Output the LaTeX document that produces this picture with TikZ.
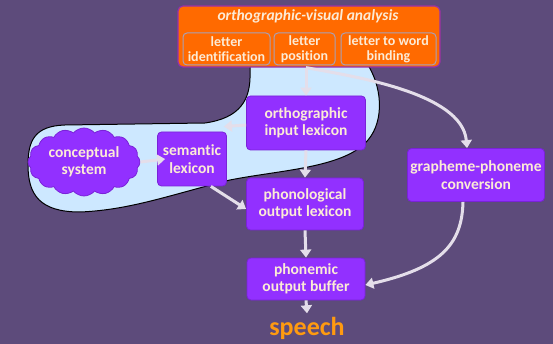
\documentclass[tikz,border=0pt]{standalone}
\usepackage{fontspec}
\setmainfont{Carlito}[Ligatures=NoCommon]
\usetikzlibrary{arrows.meta,shapes.symbols,calc}
\definecolor{bgpurple}{HTML}{5D4B7B}
\definecolor{boxviolet}{HTML}{9230FF}
\definecolor{boxedge}{HTML}{7A22D8}
\definecolor{cream}{HTML}{FCEBD6}
\definecolor{flow}{HTML}{E4DEEA}
\definecolor{orangefill}{HTML}{FF6A00}
\definecolor{subedge}{HTML}{A8A0B8}
\definecolor{blobblue}{HTML}{CDE8FF}
\definecolor{speechorange}{HTML}{FF9A10}
\tikzset{
  module/.style={draw=boxedge, line width=0.8pt, fill=boxviolet, rounded corners=4pt,
    text=cream, font=\fontsize{15.5}{17.5}\selectfont\bfseries, align=center, inner sep=1pt},
  subunit/.style={draw=subedge, line width=1pt, rounded corners=4pt, fill=orangefill,
    text=cream, font=\fontsize{14}{15}\selectfont\bfseries, align=center, inner sep=0pt,
    minimum height=32pt},
  route/.style={draw=flow, line width=3pt, -{Triangle[length=8pt,width=11pt]}},
}
\begin{document}
\begin{tikzpicture}[x=1pt,y=-1pt]
\useasboundingbox (0,0) rectangle (553,344);
\fill[bgpurple] (0,0) rectangle (553,344);

% semantic region behind the lexical route
\draw[fill=blobblue, line width=1pt, draw=black]
  (250,62) -- (250,72) .. controls (251,100) and (240,118) .. (205,123)
  -- (65,125) .. controls (35,126) and (28,140) .. (28,165)
  .. controls (28,195) and (40,212) .. (80,212)
  .. controls (130,210) and (170,195) .. (230,180)
  .. controls (280,170) and (345,168) .. (368,140)
  .. controls (385,120) and (382,85) .. (366,62) -- cycle;

% visual analysis stage
\node[draw=boxedge!80!orangefill, line width=1.2pt, fill=orangefill, rounded corners=5pt,
  minimum width=262pt, minimum height=61pt] (ova) at (309,36.5) {};
\node[text=cream, font=\fontsize{15.5}{17}\selectfont\bfseries\itshape] (ovatitle) at (308,16) {orthographic-visual analysis};
\node[subunit, minimum width=87pt] (lid) at (226.5,49) {letter\\identification};
\node[subunit, minimum width=61pt] (lpos) at (304.5,49) {letter\\position};
\node[subunit, minimum width=95pt] (lwb) at (388.5,49) {letter to word\\binding};

% processing modules
\node[module, minimum width=119pt, minimum height=54pt] (oil) at (306,123) {orthographic\\input lexicon};
\node[module, minimum width=69pt, minimum height=54pt] (sem) at (192,159) {semantic\\lexicon};
\node[module, minimum width=117pt, minimum height=52pt] (pol) at (305,204) {phonological\\output lexicon};
\node[module, minimum width=137pt, minimum height=53pt] (gpc) at (476,175) {grapheme-phoneme\\conversion};
\node[module, minimum width=118pt, minimum height=42pt] (pob) at (306,279) {phonemic\\output buffer};
\node[cloud, cloud puffs=16, cloud puff arc=100, aspect=1.7, draw=boxedge, line width=0.8pt,
  fill=boxviolet, text=cream, font=\fontsize{15.5}{17.5}\selectfont\bfseries, align=center,
  minimum width=112pt, minimum height=68pt, inner sep=0pt] (con) at (84,162) {conceptual\\system};
\node[text=speechorange, font=\fontsize{26}{28}\selectfont\bfseries] (speech) at (307,328) {speech};

% connections
\coordinate (tap) at (oil.north |- ova.south);
\draw[route] (tap) -- (oil.north);
\draw[route] (tap) .. controls (350,76) and (462,92) .. ([xshift=-9pt]gpc.north);
\draw[route] ([xshift=-13pt]gpc.south) .. controls (462,245) and (440,268) .. ([yshift=-6pt]pob.east);
\draw[route] ([yshift=-2pt]oil.west) -- ([xshift=-3pt,yshift=5pt]sem.north east);
\draw[route] (con.east) -- ([xshift=8pt]sem.west);
\draw[route] ([xshift=-16pt]sem.south east) -- ([yshift=-5pt]pol.west);
\draw[route] (oil.south) -- (pol.north);
\draw[route] (pol.south) -- (pob.north);
\draw[route] (pob.south) -- (speech.north);
\end{tikzpicture}
\end{document}
